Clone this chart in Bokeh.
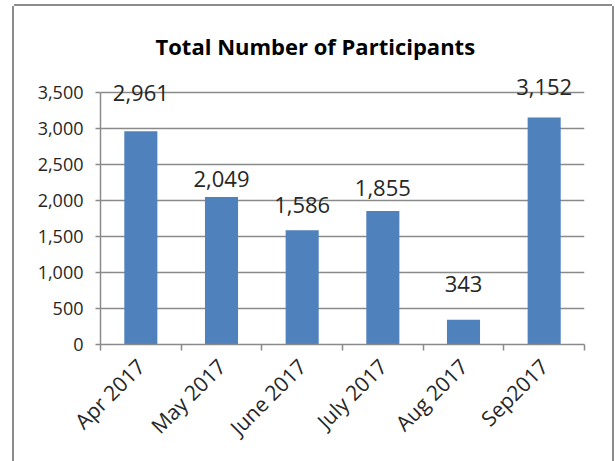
from math import pi
import numpy as np
from bokeh.plotting import figure
from bokeh.models import (ColumnDataSource, LabelSet, Range1d, FixedTicker,
                          NumeralTickFormatter)
from bokeh.core.properties import value
from bokeh.embed import file_html
from bokeh.resources import INLINE

# ---- data ----
months = ["Apr 2017", "May 2017", "June 2017", "July 2017", "Aug 2017", "Sep2017"]
participants = [2961, 2049, 1586, 1855, 343, 3152]
value_labels = ["2,961", "2,049", "1,586", "1,855", "343", "3,152"]
y_ticks = [0, 500, 1000, 1500, 2000, 2500, 3000, 3500]
title_text = "Total Number of Participants"

# style: pixel offsets of the value labels above the bar tops (as in the original)
label_offsets = [38, 18, 25, 23, 36, 31]

FONT = "Open Sans"
GRID = "#8a8a8a"
TEXT = "#262626"

xs = np.arange(len(months)) + 0.5
src = ColumnDataSource(dict(x=xs, top=participants, lab=value_labels, yo=label_offsets))

p = figure(width=598, height=455, output_backend="svg", toolbar_location=None,
           x_range=Range1d(0, len(months)), y_range=Range1d(0, 3750),
           min_border_left=86, min_border_right=28, min_border_top=68, min_border_bottom=117,
           title=title_text)
p.margin = (6, 0, 0, 14)
p.outline_line_color = None
p.background_fill_color = "white"
p.border_fill_color = "white"

p.title.text_font = FONT
p.title.text_font_size = "22px"
p.title.text_font_style = "bold"
p.title.text_color = "black"
p.title.align = "left"
p.title.offset = 55
p.title.standoff = 28

p.vbar(x="x", top="top", width=0.41, source=src, fill_color="#4F81BD", line_color=None)

# y axis
p.yaxis.ticker = FixedTicker(ticks=y_ticks)
p.yaxis.bounds = (0, 3500)
p.yaxis.formatter = NumeralTickFormatter(format="0,0")
p.yaxis.major_label_text_font = FONT
p.yaxis.major_label_text_font_size = "18px"
p.yaxis.major_label_text_color = TEXT
p.yaxis.axis_line_color = GRID
p.yaxis.axis_line_width = 1.5
p.yaxis.major_tick_line_color = GRID
p.yaxis.major_tick_line_width = 1.5
p.yaxis.major_tick_out = 5
p.yaxis.major_tick_in = 0
p.yaxis.minor_tick_line_color = None
p.yaxis.major_label_standoff = 12

# x axis: labels at bar centres, tick marks at category boundaries
p.xaxis.ticker = FixedTicker(ticks=list(xs), minor_ticks=list(range(len(months) + 1)))
p.xaxis.major_label_overrides = {float(x): m for x, m in zip(xs, months)}
p.xaxis.major_label_orientation = pi / 4
p.xaxis.major_label_text_font = FONT
p.xaxis.major_label_text_font_size = "21px"
p.xaxis.major_label_text_color = TEXT
p.xaxis.major_label_standoff = 12
p.xaxis.major_tick_line_color = None
p.xaxis.minor_tick_line_color = GRID
p.xaxis.minor_tick_line_width = 1.5
p.xaxis.minor_tick_out = 6
p.xaxis.minor_tick_in = 0
p.xaxis.axis_line_color = GRID
p.xaxis.axis_line_width = 1.5

p.xgrid.grid_line_color = None
p.ygrid.ticker = FixedTicker(ticks=y_ticks)
p.ygrid.bounds = (0, 3500)
p.ygrid.grid_line_color = GRID
p.ygrid.grid_line_width = 1.5

labels = LabelSet(x="x", y="top", text="lab", y_offset="yo", source=src,
                  text_align="center", text_baseline="middle",
                  text_font=value(FONT), text_font_size=value("22px"), text_color=TEXT)
p.add_layout(labels)

# outer chart-area border (left, top, right), drawn outside the canvas
B = "#8c8c8c"
p.styles = {"box-shadow": f"-2px 0 0 0 {B}, 2px 0 0 0 {B}, 0 -2px 0 0 {B}"}

open("out.html", "w").write(file_html(p, INLINE))
